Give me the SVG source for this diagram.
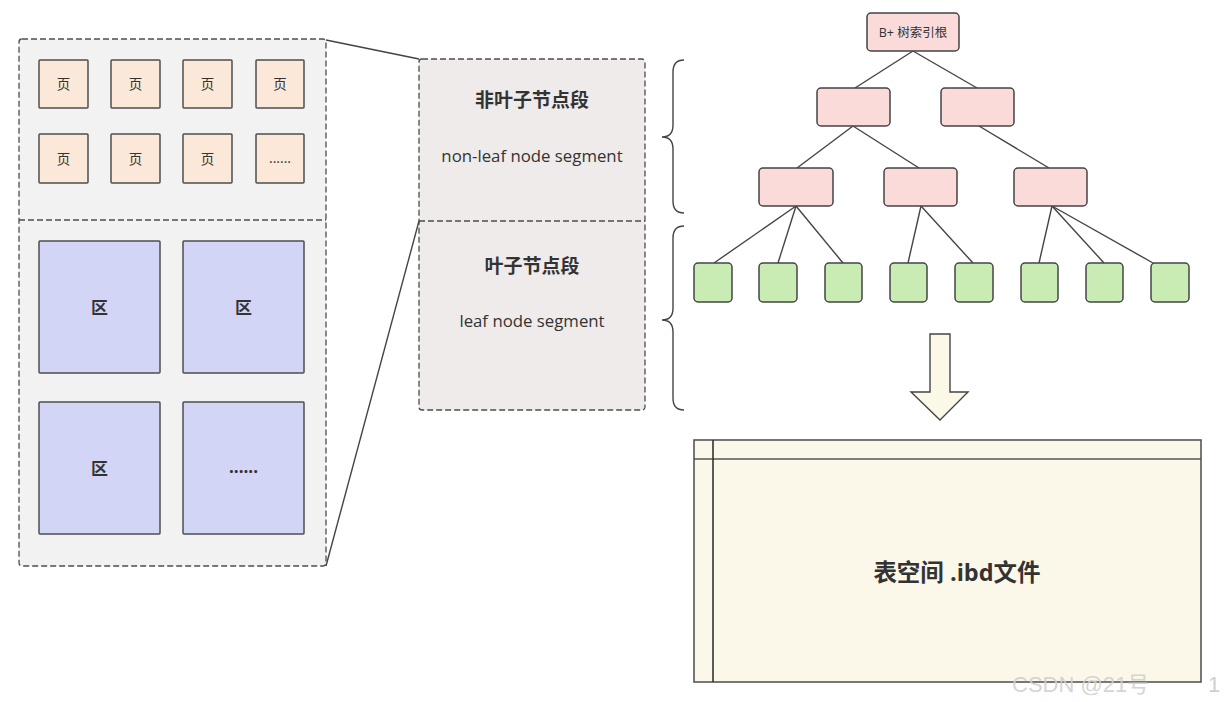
<svg xmlns="http://www.w3.org/2000/svg" width="1225" height="702" viewBox="0 0 1225 702">
<defs>
<style>
.dash{fill:#f2f2f2;stroke:#4d4d4d;stroke-width:1.3;stroke-dasharray:6 3}
.seg{fill:#eeebea;stroke:#4d4d4d;stroke-width:1.3;stroke-dasharray:6 3}
.dline{fill:none;stroke:#4d4d4d;stroke-width:1.3;stroke-dasharray:6 3}
.page{fill:#fbe8d8;stroke:#4d4d4d;stroke-width:1.5}
.zone{fill:#d3d5f6;stroke:#4d4d4d;stroke-width:1.5}
.tn{fill:#fadbda;stroke:#444;stroke-width:1.5}
.leaf{fill:#c9ecb4;stroke:#444;stroke-width:1.5}
.ln{fill:none;stroke:#444;stroke-width:1.4}
.t{font-family:"Open Sans","Noto Sans CJK SC",sans-serif;fill:#333;text-anchor:middle;dominant-baseline:central}
.b{font-weight:bold}
</style>
</defs>
<rect width="1225" height="702" fill="#ffffff"/>

<g id="left-container">
<rect class="dash" x="19" y="39" width="307" height="527" rx="3"/>
<line class="dline" x1="19" y1="220" x2="326" y2="220"/>
</g>

<g id="pages">
<g id="p1"><rect class="page" x="39" y="60" width="49" height="48" rx="1"/><text class="t" x="63.5" y="84" font-size="13.5">页</text></g>
<g id="p2"><rect class="page" x="111" y="60" width="49" height="48" rx="1"/><text class="t" x="135.5" y="84" font-size="13.5">页</text></g>
<g id="p3"><rect class="page" x="183" y="60" width="49" height="48" rx="1"/><text class="t" x="207.5" y="84" font-size="13.5">页</text></g>
<g id="p4"><rect class="page" x="256" y="60" width="48" height="48" rx="1"/><text class="t" x="280" y="84" font-size="13.5">页</text></g>
<g id="p5"><rect class="page" x="39" y="134" width="49" height="49" rx="1"/><text class="t" x="63.5" y="158.5" font-size="13.5">页</text></g>
<g id="p6"><rect class="page" x="111" y="134" width="49" height="49" rx="1"/><text class="t" x="135.5" y="158.5" font-size="13.5">页</text></g>
<g id="p7"><rect class="page" x="183" y="134" width="49" height="49" rx="1"/><text class="t" x="207.5" y="158.5" font-size="13.5">页</text></g>
<g id="p8"><rect class="page" x="256" y="134" width="48" height="49" rx="1"/><text class="t" x="280" y="157" font-size="14">......</text></g>
</g>

<g id="zones">
<g id="z1"><rect class="zone" x="39" y="241" width="121" height="132" rx="1"/><text class="t b" x="99.5" y="307" font-size="17">区</text></g>
<g id="z2"><rect class="zone" x="183" y="241" width="121" height="132" rx="1"/><text class="t b" x="243.5" y="307" font-size="17">区</text></g>
<g id="z3"><rect class="zone" x="39" y="402" width="121" height="132" rx="1"/><text class="t b" x="99.5" y="468" font-size="17">区</text></g>
<g id="z4"><rect class="zone" x="183" y="402" width="121" height="132" rx="1"/><text class="t b" x="243.5" y="466" font-size="17">......</text></g>
</g>

<g id="segments">
<rect class="seg" x="419" y="59" width="226" height="351" rx="3"/>
<line class="dline" x1="419" y1="221" x2="645" y2="221"/>
<g id="nonleaf-seg">
<text class="t b" x="532" y="100" font-size="19">非叶子节点段</text>
<text class="t" x="532" y="155" font-size="16.8">non-leaf node segment</text>
</g>
<g id="leaf-seg">
<text class="t b" x="532" y="266" font-size="19">叶子节点段</text>
<text class="t" x="532" y="320" font-size="16.8">leaf node segment</text>
</g>
</g>

<g id="connectors">
<line class="ln" x1="326" y1="40" x2="419" y2="59"/>
<line class="ln" x1="326" y1="566" x2="419" y2="221"/>
<path class="ln" d="M684 60 Q673 60 673 72 L673 125 Q673 137 662 137 Q673 137 673 149 L673 201 Q673 213 684 213"/>
<path class="ln" d="M684 226 Q673 226 673 238 L673 308 Q673 320 662 320 Q673 320 673 332 L673 398 Q673 410 684 410"/>
<line class="ln" x1="913" y1="51" x2="855" y2="88"/>
<line class="ln" x1="913" y1="51" x2="977" y2="88"/>
<line class="ln" x1="853" y1="126" x2="797" y2="168"/>
<line class="ln" x1="853" y1="126" x2="919" y2="168"/>
<line class="ln" x1="979" y1="126" x2="1049" y2="168"/>
<line class="ln" x1="796" y1="206" x2="714" y2="263"/>
<line class="ln" x1="796" y1="206" x2="778" y2="263"/>
<line class="ln" x1="796" y1="206" x2="843" y2="263"/>
<line class="ln" x1="921" y1="206" x2="908" y2="263"/>
<line class="ln" x1="921" y1="206" x2="973" y2="263"/>
<line class="ln" x1="1052" y1="206" x2="1039" y2="263"/>
<line class="ln" x1="1052" y1="206" x2="1104" y2="263"/>
<line class="ln" x1="1052" y1="206" x2="1153" y2="263"/>
</g>

<g id="tree-root"><rect class="tn" x="867" y="13" width="92" height="38" rx="4"/><text class="t" x="913" y="32" font-size="12.5">B+ 树索引根</text></g>
<g id="tree-l1a"><rect class="tn" x="817" y="88" width="73" height="38" rx="4"/></g>
<g id="tree-l1b"><rect class="tn" x="941" y="88" width="73" height="38" rx="4"/></g>
<g id="tree-l2a"><rect class="tn" x="759" y="168" width="74" height="38" rx="4"/></g>
<g id="tree-l2b"><rect class="tn" x="884" y="168" width="73" height="38" rx="4"/></g>
<g id="tree-l2c"><rect class="tn" x="1014" y="168" width="73" height="38" rx="4"/></g>

<g id="leaves">
<g id="leaf1"><rect class="leaf" x="694" y="263" width="38" height="39" rx="4"/></g>
<g id="leaf2"><rect class="leaf" x="759" y="263" width="38" height="39" rx="4"/></g>
<g id="leaf3"><rect class="leaf" x="825" y="263" width="37" height="39" rx="4"/></g>
<g id="leaf4"><rect class="leaf" x="890" y="263" width="37" height="39" rx="4"/></g>
<g id="leaf5"><rect class="leaf" x="955" y="263" width="38" height="39" rx="4"/></g>
<g id="leaf6"><rect class="leaf" x="1021" y="263" width="37" height="39" rx="4"/></g>
<g id="leaf7"><rect class="leaf" x="1086" y="263" width="37" height="39" rx="4"/></g>
<g id="leaf8"><rect class="leaf" x="1151" y="263" width="38" height="39" rx="4"/></g>
</g>

<g id="down-arrow">
<path d="M930 334 L950 334 L950 392 L968 392 L940 420 L911 392 L930 392 Z" fill="#fcf8e8" stroke="#444" stroke-width="1.4" stroke-linejoin="miter"/>
</g>

<g id="tablespace">
<rect x="694" y="440" width="507" height="242" fill="#fcf8e9" stroke="#555" stroke-width="1.6"/>
<line x1="694" y1="459" x2="1201" y2="459" stroke="#555" stroke-width="1.6"/>
<line x1="713" y1="440" x2="713" y2="682" stroke="#333" stroke-width="1.6"/>
<text class="t b" x="957" y="572" font-size="23.5">表空间 .ibd文件</text>
</g>

<g id="watermark">
<text x="1012" y="692" font-family="'Liberation Sans','Noto Sans CJK SC',sans-serif" font-size="22" fill="#cfcfcf" fill-opacity="0.9">CSDN @21号</text>
<text x="1208" y="692" font-family="'Liberation Sans',sans-serif" font-size="22" fill="#cfcfcf">1</text>
</g>
</svg>
